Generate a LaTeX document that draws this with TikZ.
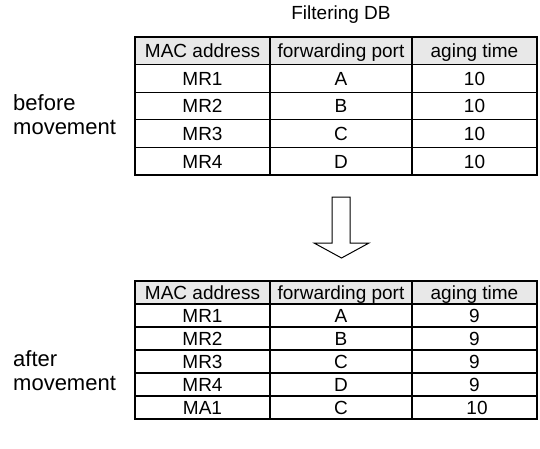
\documentclass[tikz,border=0pt]{standalone}
\usepackage{fontspec}
\setmainfont{Liberation Sans}
\usepackage{tikz}
\usetikzlibrary{calc}

\begin{document}
\begin{tikzpicture}[x=1pt,y=-1pt,
    cell/.style={font=\fontsize{19}{22}\selectfont, inner sep=0pt, text height=13.6pt, text depth=0pt},
    side/.style={font=\fontsize{22}{26}\selectfont, anchor=base west, inner sep=0pt},
    grid/.style={line width=1.1pt}]
        \useasboundingbox (0,0) rectangle (540,449);

        % Title of the table
        \node[font=\fontsize{19}{22}\selectfont, anchor=base, inner sep=0pt] (title) at (341,20) {Filtering DB};

        % Table before movement
        \fill[gray!18] (135,37) rectangle (537,64.6);
        \draw[grid] (135,37) rectangle (537,175);
        \draw[grid] (270,37) -- (270,175);
        \draw[grid] (412,37) -- (412,175);
        \draw[grid] (135,64.6) -- (537,64.6);
        \draw[grid] (135,92.2) -- (537,92.2);
        \draw[grid] (135,119.8) -- (537,119.8);
        \draw[grid] (135,147.4) -- (537,147.4);

        \node[cell] (bmac) at (202.5,50.8) {MAC address};
        \node[cell] (bport) at (341,50.8) {forwarding port};
        \node[cell] (bage) at (474.5,50.8) {aging time};
        \node[cell] (bmr1) at (202.5,78.4) {MR1};
        \node[cell] (bp1) at (341,78.4) {A};
        \node[cell] (ba1) at (474.5,78.4) {10};
        \node[cell] (bmr2) at (202.5,106) {MR2};
        \node[cell] (bp2) at (341,106) {B};
        \node[cell] (ba2) at (474.5,106) {10};
        \node[cell] (bmr3) at (202.5,133.6) {MR3};
        \node[cell] (bp3) at (341,133.6) {C};
        \node[cell] (ba3) at (474.5,133.6) {10};
        \node[cell] (bmr4) at (202.5,161.2) {MR4};
        \node[cell] (bp4) at (341,161.2) {D};
        \node[cell] (ba4) at (474.5,161.2) {10};

        % Label the state before
        \node[side] (before1) at (13,111) {before};
        \node[side] (before2) at (13,135) {movement};

        % Hollow arrow between the tables
        \draw[line width=1pt, fill=white] (332,197) -- (350,197) -- (350,243) -- (369,243)
            -- (341.5,258) -- (314,243) -- (332,243) -- cycle;

        % Table after movement
        \fill[gray!18] (135,281) rectangle (537,304);
        \draw[grid] (135,281) rectangle (537,419);
        \draw[grid] (270,281) -- (270,419);
        \draw[grid] (412,281) -- (412,419);
        \draw[grid] (135,304) -- (537,304);
        \draw[grid] (135,327) -- (537,327);
        \draw[grid] (135,350) -- (537,350);
        \draw[grid] (135,373) -- (537,373);
        \draw[grid] (135,396) -- (537,396);

        \node[cell] (amac) at (202.5,292.5) {MAC address};
        \node[cell] (aport) at (341,292.5) {forwarding port};
        \node[cell] (aage) at (474.5,292.5) {aging time};
        \node[cell] (amr1) at (202.5,315.5) {MR1};
        \node[cell] (ap1) at (341,315.5) {A};
        \node[cell] (aa1) at (474.5,315.5) {9};
        \node[cell] (amr2) at (202.5,338.5) {MR2};
        \node[cell] (ap2) at (341,338.5) {B};
        \node[cell] (aa2) at (474.5,338.5) {9};
        \node[cell] (amr3) at (202.5,361.5) {MR3};
        \node[cell] (ap3) at (341,361.5) {C};
        \node[cell] (aa3) at (474.5,361.5) {9};
        \node[cell] (amr4) at (202.5,384.5) {MR4};
        \node[cell] (ap4) at (341,384.5) {D};
        \node[cell] (aa4) at (474.5,384.5) {9};
        \node[cell] (ama1) at (202.5,407.5) {MA1};
        \node[cell] (ap5) at (341,407.5) {C};
        \node[cell] (aa5) at (477,407.5) {10};

        % Label the state after
        \node[side] (after1) at (13,366) {after};
        \node[side] (after2) at (13,390) {movement};
\end{tikzpicture}
\end{document}
